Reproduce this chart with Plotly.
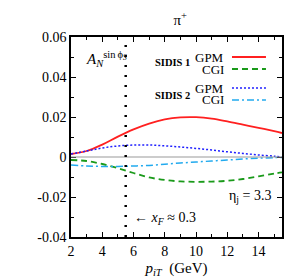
import plotly.graph_objects as go

x_pt = [2, 3, 4, 5, 6, 7, 8, 9, 10, 11, 12, 13, 14, 15, 15.5]
gpm_sidis1 = [0.0015, 0.003, 0.0062, 0.0102, 0.0138, 0.0167, 0.0188, 0.0198, 0.0199, 0.0192, 0.0178, 0.0162, 0.0146, 0.0129, 0.012]
cgi_sidis1 = [-0.0015, -0.002, -0.0035, -0.0056, -0.008, -0.0102, -0.0115, -0.0122, -0.0124, -0.0123, -0.0119, -0.011, -0.0097, -0.0083, -0.0077]
gpm_sidis2 = [0.0015, 0.003, 0.0045, 0.0055, 0.006, 0.006, 0.0056, 0.005, 0.0043, 0.0035, 0.0026, 0.0018, 0.001, 0.0004, 0.0]
cgi_sidis2 = [-0.004, -0.0045, -0.0047, -0.0047, -0.0045, -0.0042, -0.0036, -0.003, -0.0025, -0.002, -0.0015, -0.001, -0.0006, -0.0003, -0.0002]
xf_line = 5.5

FONT = "Liberation Serif, Times New Roman, DejaVu Serif, serif"
fig = go.Figure()
fig.add_hline(y=0, line=dict(color="#999999", width=1))
fig.add_vline(x=xf_line, line=dict(color="black", width=2.5, dash="2px,8px"))

series = [
    (gpm_sidis1, "#ff2020", "solid", 1.8),
    (cgi_sidis1, "#1a9a1a", "6px,4px", 1.8),
    (gpm_sidis2, "#2020ff", "2px,2px", 1.5),
    (cgi_sidis2, "#22aaee", "7px,3px,2px,3px", 1.5),
]
for ys, col, dash, w in series:
    fig.add_trace(go.Scatter(x=x_pt, y=ys, mode="lines", line=dict(color=col, dash=dash, width=w, shape="spline"), showlegend=False))

# legend as annotations + samples
leg = [("GPM", 0.90, "#ff2020", "solid", 1.8), ("CGI", 0.84, "#1a9a1a", "6px,4px", 1.8),
       ("GPM", 0.745, "#2020ff", "2px,2px", 1.5), ("CGI", 0.685, "#22aaee", "7px,3px,2px,3px", 1.5)]
for txt, yp, col, dash, w in leg:
    fig.add_annotation(x=0.735, y=yp, xref="paper", yref="paper", text=txt, showarrow=False,
                       xanchor="right", yanchor="middle", font=dict(family=FONT, size=13, color="black"))
    fig.add_shape(type="line", xref="paper", yref="paper", x0=0.763, x1=0.924, y0=yp, y1=yp,
                  line=dict(color=col, dash=dash, width=w))
fig.add_annotation(x=0.39, y=0.872, xref="paper", yref="paper", text="<b>SIDIS 1</b>", showarrow=False,
                   xanchor="left", yanchor="middle", font=dict(family=FONT, size=10.5, color="black"))
fig.add_annotation(x=0.39, y=0.707, xref="paper", yref="paper", text="<b>SIDIS 2</b>", showarrow=False,
                   xanchor="left", yanchor="middle", font=dict(family=FONT, size=10.5, color="black"))
fig.add_annotation(x=0.06, y=0.89, xref="paper", yref="paper",
                   text="<i>A</i><sub><i>N</i></sub><sup>sin\u2009ϕ<sub><i>S</i></sub></sup>", showarrow=False,
                   xanchor="left", yanchor="middle", font=dict(family=FONT, size=15, color="black"))
fig.add_annotation(x=0.74, y=0.205, xref="paper", yref="paper", text="η<sub>j</sub> = 3.3", showarrow=False,
                   xanchor="left", yanchor="middle", font=dict(family=FONT, size=14, color="black"))
fig.add_annotation(x=0.289, y=0.095, xref="paper", yref="paper", text="← <i>x<sub>F</sub></i> ≈ 0.3", showarrow=False,
                   xanchor="left", yanchor="middle", font=dict(family=FONT, size=14, color="black"))

axis_common = dict(showgrid=False, zeroline=False, showline=True, linecolor="black", linewidth=1.5,
                   mirror="allticks", ticks="inside", ticklen=5, tickcolor="black",
                   tickfont=dict(family=FONT, size=14, color="black"), automargin=False)
fig.update_xaxes(range=[2, 15.5], tickvals=[2, 4, 6, 8, 10, 12, 14],
                 minor=dict(dtick=1, tick0=0, ticks="inside", ticklen=3, tickcolor="black"),
                 title=dict(text="<i>p</i><sub><i>iT</i></sub>  (GeV)", font=dict(family=FONT, size=15, color="black"), standoff=6),
                 **axis_common)
fig.update_yaxes(range=[-0.04, 0.06], tickvals=[-0.04, -0.02, 0, 0.02, 0.04, 0.06],
                 ticktext=["-0.04", "-0.02", "0", "0.02", "0.04", "0.06"],
                 minor=dict(dtick=0.01, tick0=0, ticks="inside", ticklen=3, tickcolor="black"),
                 **axis_common)
# page body has an 8px default margin, so the figure is sized/offset to compensate
fig.update_layout(width=292, height=270, margin=dict(l=63, r=18, t=29, b=41),
                  plot_bgcolor="white", paper_bgcolor="white",
                  font=dict(family=FONT),
                  title=dict(text="π<sup>+</sup>", x=0.59, xanchor="center", y=0.955, yanchor="middle",
                             font=dict(family=FONT, size=15, color="black")))
fig.write_html("out.html")
